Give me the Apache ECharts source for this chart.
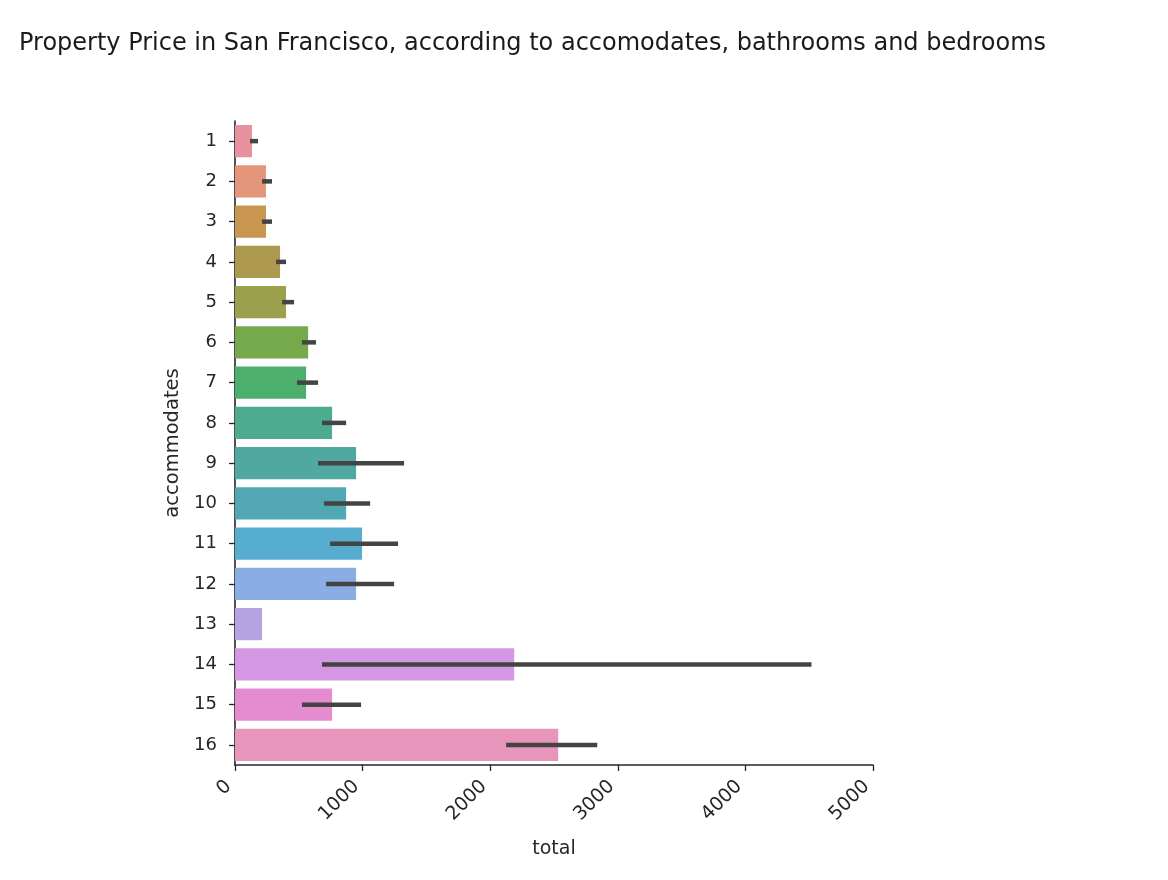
<!DOCTYPE html>
<html>
<head>
<meta charset="utf-8">
<script src="https://cdn.jsdelivr.net/npm/echarts@6/dist/echarts.min.js"></script>
<style>
html,body{margin:0;padding:0;background:#fff;}
#chart{width:1168px;height:880px;}
</style>
</head>
<body>
<div id="chart"></div>
<script>
const categories = ['1','2','3','4','5','6','7','8','9','10','11','12','13','14','15','16'];
const totals = [133, 243, 243, 353, 400, 573, 557, 761, 949, 871, 996, 949, 212, 2188, 761, 2533];
const errLow = [118, 212, 212, 322, 369, 525, 486, 682, 651, 698, 745, 714, null, 682, 525, 2125];
const errHigh = [180, 290, 290, 400, 463, 635, 651, 871, 1325, 1059, 1278, 1247, null, 4518, 988, 2839];
const xTicks = [0, 1000, 2000, 3000, 4000, 5000];
const barColors = ['#e8919e','#e5957a','#c8964f','#ae9a4e','#9ba04c','#76a84c','#4caf6d','#4dab8f',
                   '#4fa9a1','#52a8b2','#56add0','#8aaee3','#b4a5e2','#d397e3','#e58bd0','#e795bb'];

const chart = echarts.init(document.getElementById('chart'));
const font = 'DejaVu Sans';
const errData = categories.map((c, i) => [i, errLow[i], errHigh[i]]).filter(d => d[1] != null);

chart.setOption({
  animation: false,
  title: {
    text: 'Property Price in San Francisco, according to accomodates, bathrooms and bedrooms',
    left: 14, top: 27,
    textStyle: { fontFamily: font, fontSize: 24, fontWeight: 'normal', color: '#1a1a1a' }
  },
  grid: { left: 235, right: 295, top: 121, bottom: 115, containLabel: false },
  xAxis: {
    type: 'value', min: xTicks[0], max: xTicks[xTicks.length - 1], interval: 1000,
    name: 'total', nameLocation: 'middle', nameGap: 75,
    nameTextStyle: { fontFamily: font, fontSize: 19, color: '#262626' },
    axisLine: { show: true, lineStyle: { color: '#262626', width: 1.6 } },
    axisTick: { show: true, length: 6, lineStyle: { color: '#262626', width: 1.3 } },
    axisLabel: { rotate: 45, fontFamily: font, fontSize: 19, color: '#262626', margin: 12,
                 padding: [0, 9, 0, 0],
                 formatter: v => String(v) },
    splitLine: { show: false }
  },
  yAxis: {
    type: 'category', data: categories, inverse: true,
    name: 'accommodates', nameLocation: 'middle', nameGap: 45,
    nameTextStyle: { fontFamily: font, fontSize: 19.5, color: '#262626' },
    axisLine: { show: true, lineStyle: { color: '#262626', width: 1.6 } },
    axisTick: { show: true, alignWithLabel: true, length: 6, lineStyle: { color: '#262626', width: 1.3 } },
    axisLabel: { fontFamily: font, fontSize: 18, color: '#262626', margin: 18 },
    splitLine: { show: false }
  },
  series: [
    {
      type: 'bar',
      data: totals.map((v, i) => ({ value: v, itemStyle: { color: barColors[i] } })),
      barCategoryGap: '20%'
    },
    {
      type: 'custom',
      data: errData,
      encode: { y: 0, x: [1, 2] },
      z: 5,
      renderItem: function (params, api) {
        const cat = api.value(0);
        const p1 = api.coord([api.value(1), cat]);
        const p2 = api.coord([api.value(2), cat]);
        return {
          type: 'line',
          shape: { x1: p1[0], y1: p1[1], x2: p2[0], y2: p2[1] },
          style: { stroke: '#444444', lineWidth: 4.5 }
        };
      }
    }
  ]
});
</script>
</body>
</html>
